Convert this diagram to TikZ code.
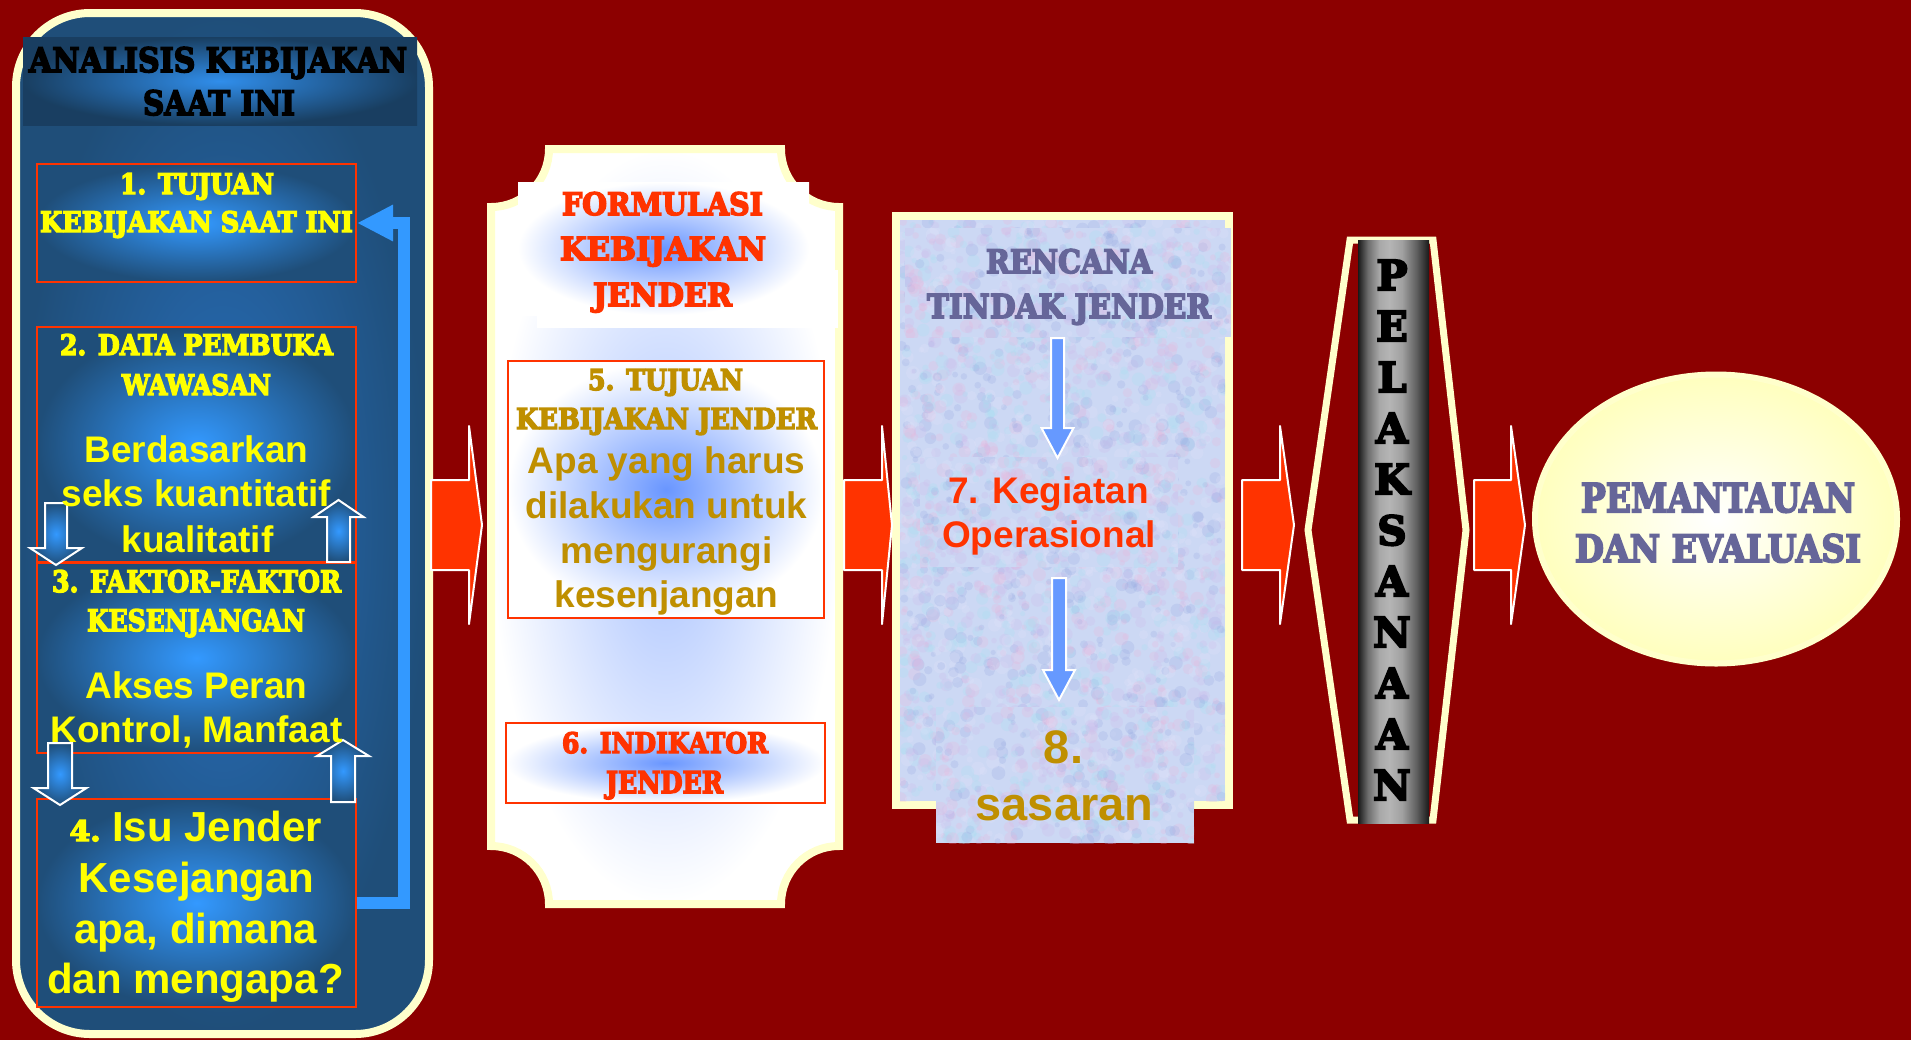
\documentclass[tikz,border=0pt]{standalone}
\usepackage{fontspec}
\usepackage{graphicx}
\setmainfont{Liberation Sans}
\newfontfamily\stencilfont{DejaVu Serif}[UprightFont={* Bold}, FakeBold=5]
\usetikzlibrary{arrows.meta,shapes.geometric,fit}

% one drawing unit = 0.5pt
\newlength\pxu
\setlength\pxu{0.5pt}
% heavy poster lettering squeezed to a given width and cap height
\newcommand\stc[3]{\resizebox{#1\pxu}{#2\pxu}{\stencilfont #3}}

\definecolor{bgred}{RGB}{140,0,0}
\definecolor{cream}{RGB}{255,255,204}
\definecolor{hotred}{RGB}{255,51,0}
\definecolor{navy}{RGB}{31,78,121}
\definecolor{skyb}{RGB}{51,153,255}
\definecolor{panelmid}{RGB}{40,112,190}
\definecolor{gold}{RGB}{191,143,0}
\definecolor{slate}{RGB}{102,102,153}
\definecolor{cornflower}{RGB}{102,153,255}
\definecolor{glowblue}{RGB}{105,150,255}
\definecolor{paleglow}{RGB}{170,195,255}
\definecolor{tyellow}{RGB}{255,255,0}
\definecolor{tissuebase}{RGB}{204,216,244}
\definecolor{tiss0}{RGB}{236,180,218}
\definecolor{tiss1}{RGB}{165,225,242}
\definecolor{tiss2}{RGB}{150,170,226}
\definecolor{tiss3}{RGB}{228,228,250}
\definecolor{tiss4}{RGB}{205,185,235}
\definecolor{eggshell}{RGB}{255,255,190}

% grey metal column, dark at both edges
\pgfdeclarehorizontalshading{cylinder}{100bp}{color(0bp)=(black!90); color(25bp)=(black!90);
  color(32bp)=(black!57); color(40bp)=(black!34); color(47bp)=(black!29); color(56bp)=(black!37);
  color(66bp)=(black!62); color(75bp)=(black!90); color(100bp)=(black!90)}

% mottled tissue-paper fill: seed, x1, y1, x2, y2, number of specks
\newcommand\tissuepatch[6]{%
  \begin{scope}
    \clip (#2,#3) rectangle (#4,#5);
    \fill[tissuebase] (#2,#3) rectangle (#4,#5);
    \pgfmathsetseed{#1}%
    \foreach \k in {1,...,#6}{%
      \pgfmathsetmacro\tpx{#2+rnd*(#4-#2)}%
      \pgfmathsetmacro\tpy{#3+rnd*(#5-#3)}%
      \pgfmathsetmacro\tpr{2.5+4.5*rnd}%
      \pgfmathtruncatemacro\tpc{5*rnd}%
      \fill[tiss\tpc, opacity=0.24] (\tpx,\tpy) circle[radius=\tpr];
    }%
  \end{scope}}

\tikzset{
  pics/blockarrow/.style args={#1/#2/#3/#4/#5}{code={%
    \path[#5] (0,-#2) -- ({#1-#4},-#2) -- ({#1-#4},-#3) -- (#1,0) -- ({#1-#4},#3) -- ({#1-#4},#2) -- (0,#2) -- cycle;}},
  redarr/.style={fill=hotred, draw=white, line width=1pt, line join=round},
  bluearr/.style={fill=cornflower, draw=white, line width=1pt},
  smallarr/.style={draw=white, line width=1pt, inner color=skyb, outer color=navy},
  lbox/.style={inner sep=0, draw=hotred, line width=1pt, shade, inner color=skyb, outer color=navy},
  wbox/.style={inner sep=0, draw=hotred, line width=1pt, shade, inner color=glowblue, outer color=white},
  stl/.style={anchor=base, inner sep=0},
  ar37/.style={font=\fontsize{18.5pt}{22pt}\selectfont\bfseries, anchor=base, inner sep=0},
  ar42/.style={font=\fontsize{21pt}{25pt}\selectfont\bfseries, anchor=base, inner sep=0},
  ar47/.style={font=\fontsize{23.5pt}{28pt}\selectfont\bfseries, anchor=base, inner sep=0},
  feedback/.style={draw=skyb, line width=6pt, line join=miter, -{Triangle[length=18pt,width=17pt]}},
}

\begin{document}
\begin{tikzpicture}[x=0.5pt, y=-0.5pt]
\useasboundingbox (0,0) rectangle (1911,1040);
\fill[bgred] (0,0) rectangle (1911,1040);

% ---------- current policy analysis column ----------
\node[fit={(16,13) (429,1034)}, inner sep=0, rounded corners=37pt, draw=cream, line width=4pt,
      shade, inner color=panelmid, outer color=navy] (analisis) {};
\node[fit={(23,37) (417,125)}, inner sep=0, shade, inner color=skyb!85!navy, outer color=navy!80!black] (band) {};

\node[lbox, fit={(37,164) (356,282)}] (box1) {};
\node[lbox, fit={(37,327) (356,562)}] (box2) {};
\node[lbox, fit={(37,563) (356,753)}] (box3) {};
\node[lbox, fit={(37,799) (356,1007)}] (box4) {};

\coordinate (dn23) at (56,503);
\coordinate (up32) at (338.5,562);
\coordinate (dn34) at (60,743);
\coordinate (up43) at (343,802);
\pic[rotate=-90] at (dn23) {blockarrow=62/11/26/17/smallarr};
\pic[rotate=90] at (up32) {blockarrow=62/11.5/25/17/smallarr};
\pic[rotate=-90] at (dn34) {blockarrow=62/12/26.5/17/smallarr};
\pic[rotate=90] at (up43) {blockarrow=62/12/26/16/smallarr};

\draw[feedback] (box4.east) -- ++(47,0) |- (box1.east);

\node[stl] (ttlA) at (218,72) {\stc{378}{25}{ANALISIS KEBIJAKAN}};
\node[stl] (ttlB) at (219,115) {\stc{152}{25}{SAAT INI}};

\begin{scope}[text=tyellow]
\node[stl] (b1a) at (197,194) {\stc{154}{21}{1. TUJUAN}};
\node[stl] (b1b) at (196.5,232) {\stc{313}{21}{KEBIJAKAN SAAT INI}};
\node[stl] (b2a) at (196.5,355) {\stc{273}{21}{2. DATA PEMBUKA}};
\node[stl] (b2b) at (196.5,395) {\stc{149}{21}{WAWASAN}};
\node[ar37] (b2c) at (196.5,462) {Berdasarkan};
\node[ar37] (b2d) at (196.5,506) {seks kuantitatif};
\node[ar37] (b2e) at (197.5,552) {kualitatif};
\node[stl] (b3a) at (196.5,592) {\stc{289}{22}{3. FAKTOR-FAKTOR}};
\node[stl] (b3b) at (196,631) {\stc{218}{22}{KESENJANGAN}};
\node[ar37] (b3c) at (196.5,698) {Akses Peran};
\node[ar37] (b3d) at (196.5,742) {Kontrol, Manfaat};
\node[ar42] (b4a) at (196,841) {\stc{31}{21}{4.}\ Isu Jender};
\node[ar42] (b4b) at (196.5,892) {Kesejangan};
\node[ar42] (b4c) at (196,943) {apa, dimana};
\node[ar42] (b4d) at (195.5,993) {dan mengapa?};
\end{scope}

% ---------- gender policy formulation plaque ----------
\shadedraw[cream, line width=4pt, inner color=paleglow, outer color=white]
  (549,149) -- (781,149) arc[start angle=180, end angle=90, radius=58]
  -- (839,846) arc[start angle=270, end angle=180, radius=58]
  -- (549,904) arc[start angle=0, end angle=-90, radius=58]
  -- (491,207) arc[start angle=90, end angle=0, radius=58] -- cycle;
\node[fit={(537,270) (838,328)}, inner sep=0, fill=white] (ftback) {};
\node[fit={(518,182) (809,315)}, inner sep=0, shade, inner color=glowblue, outer color=white] (ftitle) {};
\node[wbox, fit={(508,361) (824,618)}] (box5) {};
\node[wbox, fit={(506,723) (825,803)}] (box6) {};

\begin{scope}[text=hotred]
\node[stl] (f1) at (662.5,215) {\stc{201}{23}{FORMULASI}};
\node[stl] (f2) at (663,260) {\stc{206}{23}{KEBIJAKAN}};
\node[stl] (f3) at (662.5,306) {\stc{139}{23}{JENDER}};
\node[stl] (b6a) at (665,753) {\stc{206}{21}{6. INDIKATOR}};
\node[stl] (b6b) at (664.5,793) {\stc{117}{22}{JENDER}};
\end{scope}
\begin{scope}[text=gold]
\node[stl] (b5a) at (665.5,390) {\stc{155}{21}{5. TUJUAN}};
\node[stl] (b5b) at (666.5,429) {\stc{301}{21}{KEBIJAKAN JENDER}};
\node[ar37] (b5c) at (666.5,473) {Apa yang harus};
\node[ar37] (b5d) at (666.5,518) {dilakukan untuk};
\node[ar37] (b5e) at (666.5,563) {mengurangi};
\node[ar37] (b5f) at (666.5,607) {kesenjangan};
\end{scope}

% ---------- gender action plan ----------
\node[fit={(896,216) (1229,805)}, inner sep=0, draw=cream, line width=4pt, fill=tissuebase] (rencana) {};
\tissuepatch{11}{900}{220}{1225}{801}{2600}
\tissuepatch{12}{905}{228}{1231}{337}{500}
\tissuepatch{13}{920}{457}{1178}{567}{400}
\tissuepatch{14}{936}{707}{1194}{843}{500}
\node[fit={(905,228) (1231,337)}, inner sep=0] (rtitle) {};
\node[fit={(920,457) (1178,567)}, inner sep=0] (box7) {};
\node[fit={(936,707) (1194,843)}, inner sep=0] (box8) {};

\coordinate (r7in) at (1057.5,338);
\coordinate (r8in) at (1059,578);
\pic[rotate=-90] at (r7in) {blockarrow=120/6.5/16/30/bluearr};
\pic[rotate=-90] at (r8in) {blockarrow=122/7/16/30/bluearr};

\node[stl, text=slate] (r1) at (1069,273) {\stc{166}{24}{RENCANA}};
\node[stl, text=slate] (r2) at (1069,318) {\stc{284}{24}{TINDAK JENDER}};
\node[ar37, text=hotred] (r7a) at (1048.5,503) {7. Kegiatan};
\node[ar37, text=hotred] (r7b) at (1049,547) {Operasional};
\node[ar47, text=gold] (r8a) at (1063.5,763) {8.};
\node[ar47, text=gold] (r8b) at (1064.5,820) {sasaran};

% ---------- implementation column ----------
\draw[cream, line width=3.5pt, line join=miter]
  (1350,240) -- (1433,240) -- (1466,530) -- (1433,820) -- (1350,820) -- (1308,530) -- cycle;
\node[fit={(1358,240) (1429,823)}, inner sep=0, shade, shading=cylinder] (column) {};
\foreach \ch [count=\i from 0] in {P,E,L,A,K,S,A,N,A,A,N}
  \node[stl] (pl\i) at (1392,{290+51*\i}) {\resizebox{!}{30\pxu}{\stencilfont \ch}};

% ---------- monitoring and evaluation ----------
\node[ellipse, draw=cream, line width=3pt, shade, inner color=white, outer color=eggshell,
      minimum width=181pt, minimum height=144.5pt, inner sep=0] (monev) at (1716,519) {};
\node[stl, text=slate] (m1) at (1718,512) {\stc{274}{29}{PEMANTAUAN}};
\node[stl, text=slate] (m2) at (1718,562) {\stc{286}{28}{DAN EVALUASI}};

% ---------- flow arrows between stages ----------
\coordinate (go1) at (431,525);
\coordinate (go2) at (844,525);
\coordinate (go3) at (1242,525);
\coordinate (go4) at (1474,525);
\pic at (go1) {blockarrow=51/45/99/13/redarr};
\pic at (go2) {blockarrow=48/45/99/10/redarr};
\pic at (go3) {blockarrow=52/45/99/14/redarr};
\pic at (go4) {blockarrow=51/45/99/14/redarr};
\end{tikzpicture}
\end{document}
